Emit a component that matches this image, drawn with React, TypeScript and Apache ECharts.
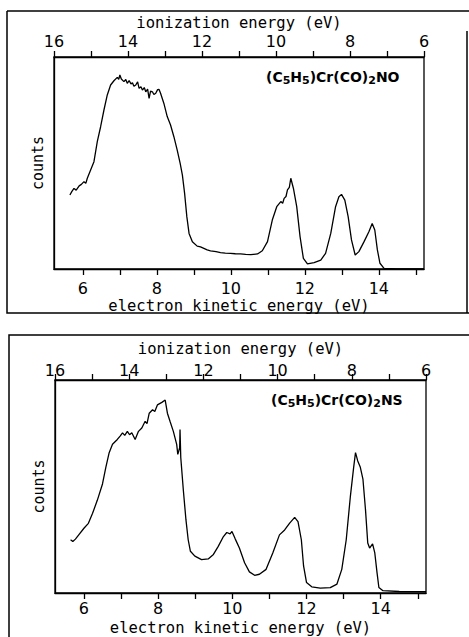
import React, { useEffect, useRef } from "react";
import * as echarts from "echarts";

// Tick values / labels
const keTicks = [6, 7, 8, 9, 10, 11, 12, 13, 14, 15];
const keLabels = [6, 8, 10, 12, 14];
const ieTicks = [6, 7, 8, 9, 10, 11, 12, 13, 14, 15, 16];
const ieLabels = [6, 8, 10, 12, 14, 16];

const topAxisTitle = "ionization energy (eV)";
const bottomAxisTitle = "electron kinetic energy (eV)";
const yTitle = "counts";

// (C5H5)Cr(CO)2NO spectrum: electron kinetic energy (eV) vs counts (arb.)
const noKE = [5.65, 5.7, 5.76, 5.82, 5.9, 5.96, 6.03, 6.08, 6.12, 6.21, 6.3, 6.39, 6.48, 6.57, 6.66, 6.75, 6.84, 6.93, 6.97, 7.0, 7.04, 7.11, 7.16, 7.2, 7.25, 7.3, 7.34, 7.38, 7.43, 7.48, 7.52, 7.57, 7.61, 7.66, 7.7, 7.75, 7.79, 7.83, 7.88, 7.92, 7.97, 8.02, 8.06, 8.1, 8.19, 8.28, 8.37, 8.46, 8.55, 8.63, 8.69, 8.75, 8.81, 8.87, 8.96, 9.09, 9.18, 9.27, 9.36, 9.45, 9.6, 9.72, 9.85, 9.99, 10.12, 10.26, 10.4, 10.54, 10.72, 10.85, 10.99, 11.12, 11.24, 11.35, 11.4, 11.44, 11.49, 11.53, 11.58, 11.62, 11.69, 11.78, 11.87, 11.96, 12.07, 12.25, 12.43, 12.56, 12.7, 12.83, 12.92, 12.99, 13.08, 13.17, 13.26, 13.36, 13.46, 13.6, 13.73, 13.82, 13.89, 13.96, 14.03, 14.14, 14.5, 15.0, 15.22];
const noCounts = [34.9, 36.5, 38.0, 37.2, 39.2, 39.9, 41.2, 40.4, 42.8, 46.7, 50.6, 60.1, 67.1, 75.0, 82.1, 86.8, 88.8, 90.4, 89.5, 91.5, 89.6, 88.4, 89.4, 87.6, 88.9, 87.3, 87.9, 86.2, 86.8, 88.3, 85.2, 86.0, 84.4, 85.6, 83.6, 84.8, 80.5, 83.9, 83.6, 82.3, 82.9, 84.6, 84.7, 82.9, 78.1, 71.9, 67.9, 62.4, 56.1, 49.8, 44.3, 35.7, 24.7, 16.8, 12.9, 10.8, 10.4, 9.7, 9.0, 8.6, 8.2, 7.7, 7.5, 7.4, 7.2, 7.1, 6.9, 6.8, 7.1, 8.6, 12.9, 23.1, 29.4, 31.8, 31.0, 33.3, 34.2, 37.3, 38.5, 42.8, 38.1, 29.4, 15.3, 5.0, 2.4, 3.0, 4.2, 7.4, 16.8, 29.4, 34.1, 35.2, 32.5, 24.7, 13.7, 6.6, 8.2, 12.9, 17.6, 21.5, 18.4, 9.0, 2.7, 0.3, 0.1, 0.0, 0.0];

// (C5H5)Cr(CO)2NS spectrum
const nsKE = [5.64, 5.7, 5.77, 5.86, 6.0, 6.12, 6.23, 6.36, 6.5, 6.59, 6.68, 6.77, 6.9, 6.98, 7.04, 7.1, 7.17, 7.23, 7.29, 7.38, 7.47, 7.56, 7.65, 7.7, 7.76, 7.85, 7.91, 7.98, 8.1, 8.19, 8.25, 8.32, 8.41, 8.5, 8.53, 8.58, 8.59, 8.61, 8.68, 8.75, 8.81, 8.87, 8.99, 9.17, 9.35, 9.49, 9.62, 9.76, 9.85, 9.94, 9.99, 10.08, 10.19, 10.33, 10.46, 10.6, 10.73, 10.91, 11.09, 11.27, 11.41, 11.54, 11.68, 11.77, 11.86, 11.92, 12.0, 12.14, 12.37, 12.64, 12.82, 12.95, 13.07, 13.18, 13.27, 13.32, 13.38, 13.45, 13.52, 13.59, 13.65, 13.7, 13.78, 13.84, 13.9, 13.95, 14.06, 14.5, 15.22];
const nsCounts = [25.0, 24.2, 25.3, 27.3, 30.4, 32.7, 37.3, 43.5, 51.2, 59.0, 65.9, 69.8, 72.1, 73.8, 75.2, 74.0, 75.9, 74.3, 75.2, 72.1, 75.9, 77.5, 80.6, 79.5, 84.4, 86.0, 85.2, 88.3, 89.5, 90.6, 84.4, 80.6, 75.9, 69.8, 65.1, 68.2, 76.7, 63.6, 48.1, 34.3, 25.0, 19.6, 17.3, 15.7, 16.0, 18.1, 21.9, 26.5, 28.4, 27.8, 28.9, 25.3, 21.1, 14.2, 9.9, 8.3, 8.8, 11.1, 18.8, 27.3, 29.6, 32.7, 35.5, 33.5, 25.0, 12.7, 4.9, 2.9, 2.3, 2.5, 4.2, 11.1, 25.0, 45.1, 59.0, 65.9, 62.0, 59.0, 53.5, 38.9, 23.5, 21.1, 23.1, 18.8, 9.6, 2.6, 1.1, 0.7, 0.6];

const numFont = "DejaVu Sans";
const titleFont = "DejaVu Sans Mono";

function pairs(xs: number[], ys: number[]) {
  return xs.map((x, i) => [x, ys[i]]);
}

function keAxis(gridIndex: number, labelMargin: number, nameGap: number) {
  return {
    type: "value",
    gridIndex,
    position: "bottom",
    min: 5.22,
    max: 15.22,
    axisLine: { show: true, lineStyle: { color: "#000", width: 1.3 } },
    axisTick: { show: true, inside: false, length: 6, customValues: keTicks, lineStyle: { color: "#000", width: 1.3 } },
    axisLabel: { show: true, customValues: keLabels, margin: labelMargin, color: "#000", fontFamily: numFont, fontSize: 16 },
    splitLine: { show: false },
    name: bottomAxisTitle,
    nameLocation: "middle",
    nameGap,
    nameTextStyle: { color: "#000", fontFamily: titleFont, fontSize: 15.5 },
  };
}

function ieAxis(gridIndex: number, labelMargin: number, nameGap: number) {
  return {
    type: "value",
    gridIndex,
    position: "top",
    inverse: true,
    min: 6,
    max: 16,
    axisLine: { show: true, lineStyle: { color: "#000", width: 1.3 } },
    axisTick: { show: true, inside: false, length: 6, customValues: ieTicks, lineStyle: { color: "#000", width: 1.3 } },
    axisLabel: { show: true, customValues: ieLabels, margin: labelMargin, color: "#000", fontFamily: numFont, fontSize: 16 },
    splitLine: { show: false },
    name: topAxisTitle,
    nameLocation: "middle",
    nameGap,
    nameTextStyle: { color: "#000", fontFamily: titleFont, fontSize: 15.5 },
  };
}

function countsAxis(gridIndex: number) {
  return {
    type: "value",
    gridIndex,
    min: 0,
    max: 100,
    axisLine: { show: true, lineStyle: { color: "#000", width: 1.3 } },
    axisTick: { show: false },
    axisLabel: { show: false },
    splitLine: { show: false },
    name: yTitle,
    nameLocation: "middle",
    nameRotate: 90,
    nameGap: 9,
    nameTextStyle: { color: "#000", fontFamily: titleFont, fontSize: 15 },
  };
}

const richStyles = {
  b: { fontFamily: "DejaVu Sans", fontWeight: "bold", fontSize: 14, lineHeight: 19, verticalAlign: "middle", color: "#000" },
  s: { fontFamily: "DejaVu Sans", fontWeight: "bold", fontSize: 11, lineHeight: 11, verticalAlign: "bottom", color: "#000" },
};

function compoundText(x: number, y: number, ligand: string) {
  return {
    type: "text",
    x,
    y,
    style: {
      text: "{b|(C}{s|5}{b|H}{s|5}{b|)Cr(CO)}{s|2}{b|" + ligand + "}",
      rich: richStyles,
      fill: "#000",
    },
  };
}

export default function App() {
  const ref = useRef<HTMLDivElement>(null);
  useEffect(() => {
    if (!ref.current) return;
    const chart = echarts.init(ref.current, undefined, { renderer: "svg" });
    const option: any = {
      animation: false,
      backgroundColor: "#fff",
      grid: [
        { left: 54, top: 57, width: 370, height: 212, show: true, borderColor: "#000", borderWidth: 1.3, backgroundColor: "transparent" },
        { left: 55, top: 380, width: 371, height: 216, show: true, borderColor: "#000", borderWidth: 1.3, backgroundColor: "transparent" },
      ],
      xAxis: [keAxis(0, 11, 29), ieAxis(0, 8, 26), keAxis(1, 7, 27), ieAxis(1, 2, 23)],
      yAxis: [countsAxis(0), countsAxis(1)],
      series: [
        {
          type: "line",
          name: "(C5H5)Cr(CO)2NO",
          xAxisIndex: 0,
          yAxisIndex: 0,
          data: pairs(noKE, noCounts),
          showSymbol: false,
          lineStyle: { color: "#000", width: 1.3 },
          silent: true,
        },
        {
          type: "line",
          name: "(C5H5)Cr(CO)2NS",
          xAxisIndex: 2,
          yAxisIndex: 1,
          data: pairs(nsKE, nsCounts),
          showSymbol: false,
          lineStyle: { color: "#000", width: 1.3 },
          silent: true,
        },
      ],
      graphic: [
        // outer frame of the upper panel
        { type: "polyline", shape: { points: [[7, 11], [469, 11]] }, style: { stroke: "#000", lineWidth: 1.5, fill: null } },
        { type: "polyline", shape: { points: [[7, 11], [7, 313], [469, 313]] }, style: { stroke: "#000", lineWidth: 1.5, fill: null } },
        { type: "line", shape: { x1: 467, y1: 31, x2: 467, y2: 313 }, style: { stroke: "#000", lineWidth: 1.5 } },
        // outer frame of the lower panel
        { type: "polyline", shape: { points: [[9, 645], [9, 335], [469, 335]] }, style: { stroke: "#000", lineWidth: 1.5, fill: null } },
        compoundText(266, 67, "NO"),
        compoundText(271, 390, "NS"),
      ],
    };
    chart.setOption(option);
    return () => chart.dispose();
  }, []);
  return (
    <div
      ref={ref}
      style={{ position: "fixed", left: 0, top: 0, width: 469, height: 637, background: "#fff" }}
    />
  );
}
